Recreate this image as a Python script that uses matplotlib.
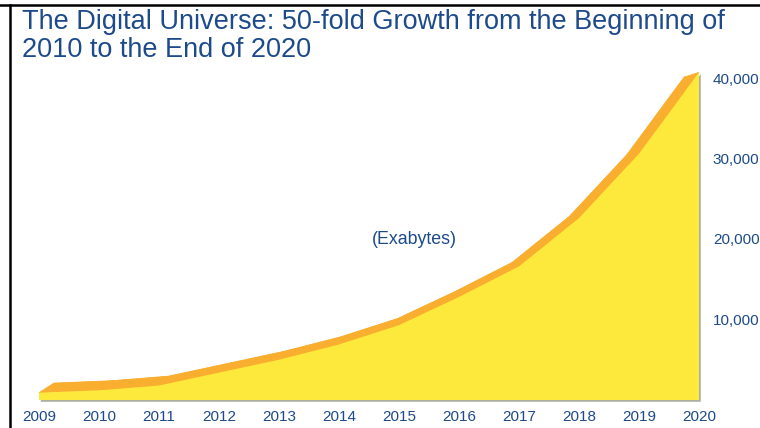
import numpy as np
import matplotlib
matplotlib.use("Agg")
import matplotlib.pyplot as plt
from matplotlib.patches import Polygon
from matplotlib.lines import Line2D

# ---- data ----
years = [2009, 2010, 2011, 2012, 2013, 2014, 2015, 2016, 2017, 2018, 2019, 2020]
exabytes = [900, 1200, 1800, 3400, 5000, 6900, 9300, 12800, 16600, 22600, 30600, 40700]
x_labels = ["2009", "2010", "2011", "2012", "2013", "2014", "2015",
            "2016", "2017", "2018", "2019", "2020"]
y_ticks = [10000, 20000, 30000, 40000]
y_labels = ["10,000", "20,000", "30,000", "40,000"]
title_lines = ["The Digital Universe: 50-fold Growth from the Beginning of",
               "2010 to the End of 2020"]
unit_label = "(Exabytes)"

BLUE = "#1d4a8a"
YELLOW = "#fde83c"
ORANGE = "#f9ae30"
FONT = "Liberation Sans"

W, H = 760, 428
fig = plt.figure(figsize=(W / 100, H / 100), dpi=100)
fig.patch.set_facecolor("white")

ax = fig.add_axes([39 / W, (H - 400) / H, (699 - 39) / W, (400 - 78) / H])
ax.set_xlim(2009, 2020)
ax.set_ylim(0, 40000)
ax.set_facecolor("none")
for s in ax.spines.values():
    s.set_visible(False)

# front face coordinates in display space
xs = np.array(years, dtype=float)
ys = np.array(exabytes, dtype=float)
front_top = ax.transData.transform(np.column_stack([xs, ys]))
base = ax.transData.transform(np.column_stack([[xs[-1], xs[0]], [0, 0]]))
front_poly = np.vstack([front_top, base])

# perspective depth: shrink toward a vanishing point
vp = np.array([369.0, H - 178.0])
k = 0.955
back_top = vp + k * (front_top - vp)
back_poly = vp + k * (front_poly - vp)

# back face
fig.patches.append(Polygon(back_poly, closed=True, facecolor=ORANGE,
                           edgecolor="none", transform=None, zorder=1))
# top surface
for i in range(len(xs) - 1):
    quad = np.array([front_top[i], front_top[i + 1], back_top[i + 1], back_top[i]])
    fig.patches.append(Polygon(quad, closed=True, facecolor=ORANGE,
                               edgecolor=ORANGE, linewidth=0.6,
                               transform=None, zorder=2))
# shadow of front face
shadow = front_poly + np.array([1.8, -1.8])
fig.patches.append(Polygon(shadow, closed=True, facecolor="#9a9a8a",
                           edgecolor="none", alpha=0.8, transform=None, zorder=2.5))
# front face
fig.patches.append(Polygon(front_poly, closed=True, facecolor=YELLOW,
                           edgecolor="none", transform=None, zorder=3))

# ticks
ax.set_xticks(years)
ax.set_xticklabels(x_labels)
ax.yaxis.tick_right()
ax.set_yticks(y_ticks)
ax.set_yticklabels(y_labels, ha="left")
ax.tick_params(axis="x", length=0, pad=7, labelsize=11, labelcolor=BLUE)
ax.tick_params(axis="y", length=0, pad=10, labelsize=11, labelcolor=BLUE)
for lab in ax.get_xticklabels() + ax.get_yticklabels():
    lab.set_fontfamily(FONT)

ax.text(0.5695, 0.5, unit_label, transform=ax.transAxes, ha="center", va="center",
        fontsize=12.8, color=BLUE, fontfamily=FONT)

# title
fig.text(22 / W, 1 - 29 / H, title_lines[0], ha="left", va="baseline",
         fontsize=19.5, color=BLUE, fontfamily=FONT)
fig.text(22 / W, 1 - 57 / H, title_lines[1], ha="left", va="baseline",
         fontsize=19.5, color=BLUE, fontfamily=FONT)

# slide frame
fig.add_artist(Line2D([0, 1], [1 - 5 / H, 1 - 5 / H], color="black", lw=1.8,
                      transform=fig.transFigure))
fig.add_artist(Line2D([10 / W, 10 / W], [0, 1 - 5 / H], color="black", lw=1.8,
                      transform=fig.transFigure))

fig.savefig("out.png", dpi=100, facecolor="white")
